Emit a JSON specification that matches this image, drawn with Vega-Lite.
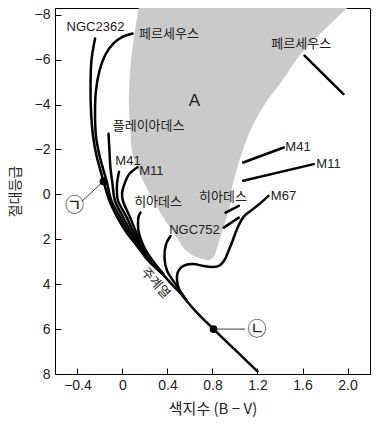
{
  "$schema": "https://vega.github.io/schema/vega-lite/v6.json",
  "width": 315,
  "height": 366,
  "autosize": {"type": "none"},
  "padding": {"left": 55, "top": 8, "right": 8, "bottom": 52},
  "background": "white",
  "config": {
    "view": {"stroke": "black", "strokeWidth": 1},
    "font": "Liberation Sans, Noto Sans CJK KR",
    "axisX": {
      "grid": false, "tickSize": -6, "labelPadding": 10,
      "domainColor": "black", "tickColor": "black",
      "labelFontSize": 14, "labelColor": "#222",
      "titleFontSize": 15, "titleFontWeight": "normal",
      "titleColor": "#222", "titlePadding": 9,
      "titleFont": "Noto Sans CJK KR"
    },
    "axisY": {
      "grid": false, "tickSize": -6, "labelPadding": 11,
      "domainColor": "black", "tickColor": "black",
      "labelFontSize": 14, "labelColor": "#222",
      "titleFontSize": 14, "titleFontWeight": "normal",
      "titleColor": "#222", "titlePadding": 12,
      "titleFont": "Noto Sans CJK KR"
    }
  },
  "datasets": {
    "region": [
      {"y": -8.3, "xl": 0.145, "xr": 1.997},
      {"y": -7.3, "xl": 0.111, "xr": 1.787},
      {"y": -6.183, "xl": 0.08, "xr": 1.573},
      {"y": -5.067, "xl": 0.062, "xr": 1.422},
      {"y": -4.174, "xl": 0.056, "xr": 1.286},
      {"y": -3.058, "xl": 0.067, "xr": 1.156},
      {"y": -1.942, "xl": 0.084, "xr": 1.067},
      {"y": -1.049, "xl": 0.142, "xr": 1.013},
      {"y": -0.29, "xl": 0.213, "xr": 0.973},
      {"y": 0.424, "xl": 0.293, "xr": 0.956},
      {"y": 1.183, "xl": 0.382, "xr": 0.916},
      {"y": 1.942, "xl": 0.486, "xr": 0.867},
      {"y": 2.522, "xl": 0.573, "xr": 0.831},
      {"y": 2.79, "xl": 0.658, "xr": 0.809},
      {"y": 2.946, "xl": 0.764, "xr": 0.764}
    ],
    "curves": [
      {"c": "main", "i": 1, "x": -0.244, "y": -6.94},
      {"c": "main", "i": 2, "x": -0.276, "y": -5.96},
      {"c": "main", "i": 3, "x": -0.284, "y": -4.84},
      {"c": "main", "i": 4, "x": -0.28, "y": -3.73},
      {"c": "main", "i": 5, "x": -0.262, "y": -2.61},
      {"c": "main", "i": 6, "x": -0.231, "y": -1.72},
      {"c": "main", "i": 7, "x": -0.2, "y": -1.14},
      {"c": "main", "i": 8, "x": -0.169, "y": -0.58},
      {"c": "main", "i": 9, "x": -0.116, "y": 0.29},
      {"c": "main", "i": 10, "x": -0.053, "y": 0.96},
      {"c": "main", "i": 11, "x": 0.027, "y": 1.629},
      {"c": "main", "i": 12, "x": 0.129, "y": 2.299},
      {"c": "main", "i": 13, "x": 0.231, "y": 2.969},
      {"c": "main", "i": 14, "x": 0.356, "y": 3.549},
      {"c": "main", "i": 15, "x": 0.453, "y": 4.085},
      {"c": "main", "i": 16, "x": 0.498, "y": 4.308},
      {"c": "main", "i": 17, "x": 0.649, "y": 5.2},
      {"c": "main", "i": 18, "x": 0.809, "y": 6.0},
      {"c": "main", "i": 19, "x": 1.004, "y": 6.94},
      {"c": "main", "i": 20, "x": 1.2, "y": 7.88},

      {"c": "perseus", "i": 1, "x": 0.089, "y": -7.165},
      {"c": "perseus", "i": 2, "x": 0.0, "y": -7.01},
      {"c": "perseus", "i": 3, "x": -0.08, "y": -6.72},
      {"c": "perseus", "i": 4, "x": -0.151, "y": -6.23},
      {"c": "perseus", "i": 5, "x": -0.204, "y": -5.51},
      {"c": "perseus", "i": 6, "x": -0.236, "y": -4.62},
      {"c": "perseus", "i": 7, "x": -0.244, "y": -3.73},
      {"c": "perseus", "i": 8, "x": -0.236, "y": -2.61},
      {"c": "perseus", "i": 9, "x": -0.204, "y": -1.72},
      {"c": "perseus", "i": 10, "x": -0.173, "y": -1.14},
      {"c": "perseus", "i": 11, "x": -0.142, "y": -0.603},
      {"c": "perseus", "i": 12, "x": -0.098, "y": 0.29},
      {"c": "perseus", "i": 13, "x": -0.027, "y": 0.96},
      {"c": "perseus", "i": 14, "x": 0.049, "y": 1.629},
      {"c": "perseus", "i": 15, "x": 0.142, "y": 2.299},
      {"c": "perseus", "i": 16, "x": 0.24, "y": 2.969},
      {"c": "perseus", "i": 17, "x": 0.356, "y": 3.549},

      {"c": "pleiades", "i": 1, "x": -0.124, "y": -2.701},
      {"c": "pleiades", "i": 2, "x": -0.116, "y": -1.942},
      {"c": "pleiades", "i": 3, "x": -0.107, "y": -1.183},
      {"c": "pleiades", "i": 4, "x": -0.089, "y": -0.469},
      {"c": "pleiades", "i": 5, "x": -0.067, "y": 0.29},
      {"c": "pleiades", "i": 6, "x": 0.0, "y": 0.96},
      {"c": "pleiades", "i": 7, "x": 0.071, "y": 1.629},
      {"c": "pleiades", "i": 8, "x": 0.153, "y": 2.299},
      {"c": "pleiades", "i": 9, "x": 0.247, "y": 2.969},
      {"c": "pleiades", "i": 10, "x": 0.358, "y": 3.549},

      {"c": "m41", "i": 1, "x": -0.031, "y": -1.004},
      {"c": "m41", "i": 2, "x": -0.049, "y": -0.469},
      {"c": "m41", "i": 3, "x": -0.049, "y": -0.067},
      {"c": "m41", "i": 4, "x": -0.04, "y": 0.29},
      {"c": "m41", "i": 5, "x": 0.031, "y": 0.96},
      {"c": "m41", "i": 6, "x": 0.093, "y": 1.629},
      {"c": "m41", "i": 7, "x": 0.164, "y": 2.299},
      {"c": "m41", "i": 8, "x": 0.255, "y": 2.969},
      {"c": "m41", "i": 9, "x": 0.36, "y": 3.549},

      {"c": "m11", "i": 1, "x": 0.133, "y": -1.205},
      {"c": "m11", "i": 2, "x": 0.062, "y": -0.915},
      {"c": "m11", "i": 3, "x": 0.018, "y": -0.469},
      {"c": "m11", "i": 4, "x": -0.004, "y": -0.067},
      {"c": "m11", "i": 5, "x": 0.004, "y": 0.29},
      {"c": "m11", "i": 6, "x": 0.062, "y": 0.96},
      {"c": "m11", "i": 7, "x": 0.116, "y": 1.629},
      {"c": "m11", "i": 8, "x": 0.175, "y": 2.299},
      {"c": "m11", "i": 9, "x": 0.262, "y": 2.969},
      {"c": "m11", "i": 10, "x": 0.362, "y": 3.549},

      {"c": "hyades", "i": 1, "x": 0.16, "y": 0.8125},
      {"c": "hyades", "i": 2, "x": 0.142, "y": 1.0},
      {"c": "hyades", "i": 3, "x": 0.138, "y": 1.3},
      {"c": "hyades", "i": 4, "x": 0.142, "y": 1.629},
      {"c": "hyades", "i": 5, "x": 0.187, "y": 2.299},
      {"c": "hyades", "i": 6, "x": 0.27, "y": 2.969},
      {"c": "hyades", "i": 7, "x": 0.364, "y": 3.549},

      {"c": "ngc752", "i": 1, "x": 0.427, "y": 1.853},
      {"c": "ngc752", "i": 2, "x": 0.388, "y": 2.21},
      {"c": "ngc752", "i": 3, "x": 0.373, "y": 2.835},
      {"c": "ngc752", "i": 4, "x": 0.397, "y": 3.415},
      {"c": "ngc752", "i": 5, "x": 0.471, "y": 3.996},
      {"c": "ngc752", "i": 6, "x": 0.573, "y": 4.754},

      {"c": "m67", "i": 1, "x": 0.573, "y": 4.754},
      {"c": "m67", "i": 2, "x": 0.502, "y": 4.2},
      {"c": "m67", "i": 3, "x": 0.484, "y": 3.8},
      {"c": "m67", "i": 4, "x": 0.49, "y": 3.5},
      {"c": "m67", "i": 5, "x": 0.515, "y": 3.28},
      {"c": "m67", "i": 6, "x": 0.56, "y": 3.147},
      {"c": "m67", "i": 7, "x": 0.631, "y": 3.103},
      {"c": "m67", "i": 8, "x": 0.72, "y": 3.192},
      {"c": "m67", "i": 9, "x": 0.8, "y": 3.237},
      {"c": "m67", "i": 10, "x": 0.862, "y": 3.17},
      {"c": "m67", "i": 11, "x": 0.907, "y": 2.924},
      {"c": "m67", "i": 12, "x": 0.942, "y": 2.522},
      {"c": "m67", "i": 13, "x": 0.978, "y": 2.076},
      {"c": "m67", "i": 14, "x": 1.022, "y": 1.496},
      {"c": "m67", "i": 15, "x": 1.076, "y": 1.004},
      {"c": "m67", "i": 16, "x": 1.138, "y": 0.737},
      {"c": "m67", "i": 17, "x": 1.218, "y": 0.424},
      {"c": "m67", "i": 18, "x": 1.298, "y": 0.067},

      {"c": "perseusG", "i": 1, "x": 1.618, "y": -6.183},
      {"c": "perseusG", "i": 2, "x": 1.964, "y": -4.469},
      {"c": "m41G", "i": 1, "x": 1.073, "y": -1.42},
      {"c": "m41G", "i": 2, "x": 1.434, "y": -2.089},
      {"c": "m11G", "i": 1, "x": 1.073, "y": -0.603},
      {"c": "m11G", "i": 2, "x": 1.7, "y": -1.347},
      {"c": "hyadesG", "i": 1, "x": 0.916, "y": 0.8125},
      {"c": "hyadesG", "i": 2, "x": 1.034, "y": 0.513},
      {"c": "ngc752G", "i": 1, "x": 0.9, "y": 1.482},
      {"c": "ngc752G", "i": 2, "x": 1.034, "y": 1.036}
    ],
    "pointers": [
      {"p": "a", "i": 1, "x": -0.36, "y": 0.3},
      {"p": "a", "i": 2, "x": -0.169, "y": -0.58},
      {"p": "b", "i": 1, "x": 0.809, "y": 6.0},
      {"p": "b", "i": 2, "x": 1.09, "y": 6.0}
    ],
    "dots": [
      {"x": -0.169, "y": -0.58},
      {"x": 0.809, "y": 6.0}
    ],
    "labels": [
      {"t": "NGC2362", "x": -0.24, "y": -7.45},
      {"t": "페르세우스", "x": 0.413, "y": -7.16},
      {"t": "페르세우스", "x": 1.589, "y": -6.71},
      {"t": "플레이아데스", "x": 0.232, "y": -3.06},
      {"t": "M41", "x": 0.049, "y": -1.5},
      {"t": "M11", "x": 0.256, "y": -1.05},
      {"t": "M41", "x": 1.56, "y": -2.09},
      {"t": "M11", "x": 1.831, "y": -1.35},
      {"t": "히아데스", "x": 0.316, "y": 0.335},
      {"t": "히아데스", "x": 0.893, "y": 0.11},
      {"t": "NGC752", "x": 0.64, "y": 1.585},
      {"t": "M67", "x": 1.431, "y": 0.067}
    ],
    "big": [
      {"t": "A", "x": 0.64, "y": -4.17}
    ],
    "circled": [
      {"t": "㉠", "x": -0.427, "y": 0.536},
      {"t": "㉡", "x": 1.196, "y": 6.03}
    ],
    "ms": [
      {"t": "주계열", "x": 0.293, "y": 3.95}
    ]
  },
  "encoding": {
    "y": {
      "field": "y", "type": "quantitative",
      "scale": {"domain": [-8.3, 8], "reverse": true, "nice": false, "zero": false},
      "axis": {"title": "절대등급", "values": [-8, -6, -4, -2, 0, 2, 4, 6, 8]}
    },
    "x": {
      "field": "x", "type": "quantitative",
      "scale": {"domain": [-0.6, 2.2], "nice": false, "zero": false},
      "axis": {
        "title": "색지수 (B − V)",
        "values": [-0.4, 0, 0.4, 0.8, 1.2, 1.6, 2.0],
        "labelExpr": "datum.value == 0 ? '0' : format(datum.value, '.1f')"
      }
    }
  },
  "layer": [
    {
      "data": {"name": "region"},
      "mark": {"type": "area", "orient": "horizontal", "interpolate": "monotone", "color": "#cacaca", "clip": true},
      "encoding": {
        "x": {
          "field": "xl", "type": "quantitative",
          "scale": {"domain": [-0.6, 2.2], "nice": false, "zero": false},
          "axis": {
            "title": "색지수 (B − V)",
            "values": [-0.4, 0, 0.4, 0.8, 1.2, 1.6, 2.0],
            "labelExpr": "datum.value == 0 ? '0' : format(datum.value, '.1f')"
          }
        },
        "x2": {"field": "xr"}
      }
    },
    {
      "data": {"name": "curves"},
      "mark": {"type": "line", "interpolate": "catmull-rom", "strokeWidth": 2.5, "color": "black", "strokeCap": "round", "clip": true},
      "encoding": {
        "detail": {"field": "c"},
        "order": {"field": "i", "type": "quantitative"}
      }
    },
    {
      "data": {"name": "pointers"},
      "mark": {"type": "line", "strokeWidth": 0.9, "color": "#222"},
      "encoding": {
        "detail": {"field": "p"},
        "order": {"field": "i", "type": "quantitative"}
      }
    },
    {
      "data": {"name": "dots"},
      "mark": {"type": "point", "filled": true, "color": "black", "size": 60, "opacity": 1}
    },
    {
      "data": {"name": "labels"},
      "mark": {"type": "text", "fontSize": 13, "color": "#222", "align": "center", "baseline": "middle"},
      "encoding": {"text": {"field": "t"}}
    },
    {
      "data": {"name": "big"},
      "mark": {"type": "text", "fontSize": 17, "color": "#222", "align": "center", "baseline": "middle"},
      "encoding": {"text": {"field": "t"}}
    },
    {
      "data": {"name": "circled"},
      "mark": {"type": "text", "fontSize": 19, "color": "#222", "align": "center", "baseline": "middle", "font": "Noto Sans CJK KR"},
      "encoding": {"text": {"field": "t"}}
    },
    {
      "data": {"name": "ms"},
      "mark": {"type": "text", "fontSize": 13, "color": "#222", "align": "center", "baseline": "middle", "angle": 48},
      "encoding": {"text": {"field": "t"}}
    }
  ]
}
